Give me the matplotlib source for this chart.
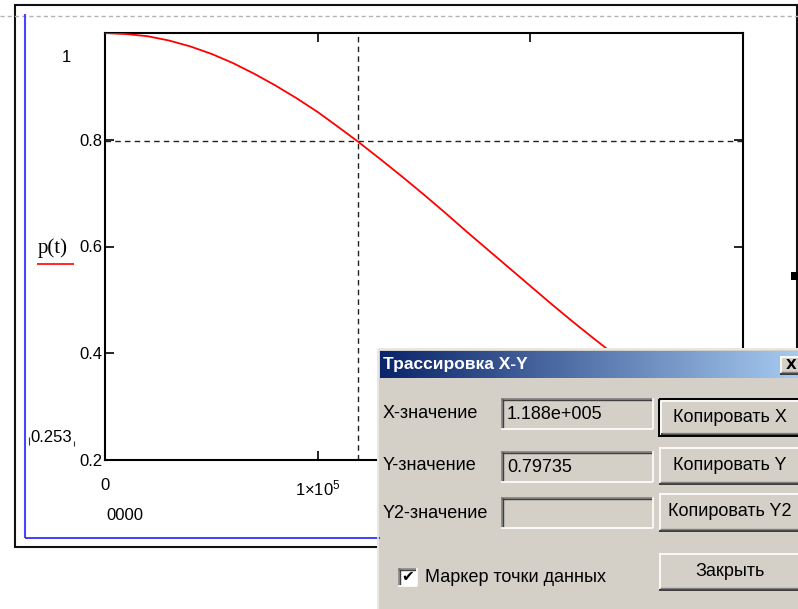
import numpy as np
import matplotlib
matplotlib.use("Agg")
import matplotlib.pyplot as plt
from matplotlib.patches import Rectangle

plt.rcParams['font.family'] = ['Liberation Sans', 'DejaVu Sans']
plt.rcParams['mathtext.fontset'] = 'custom'
plt.rcParams['mathtext.rm'] = 'Liberation Sans'
plt.rcParams['mathtext.it'] = 'Liberation Sans'

# p(t) curve, read along the visible part of the trace
t_vals = [0, 0.1e5, 0.2e5, 0.3e5, 0.4e5, 0.5e5, 0.6e5, 0.7e5, 0.8e5, 0.9e5,
          1.0e5, 1.1e5, 1.188e5, 1.3e5, 1.4e5, 1.5e5, 1.6e5, 1.7e5, 1.8e5,
          1.9e5, 2.0e5, 2.1e5, 2.2e5, 2.3e5, 2.4e5, 2.5e5]
p_vals = [1.000, 0.998, 0.994, 0.986, 0.975, 0.961, 0.944, 0.924, 0.902, 0.878,
          0.852, 0.823, 0.797, 0.762, 0.730, 0.697, 0.663, 0.628, 0.594,
          0.560, 0.526, 0.492, 0.459, 0.427, 0.396, 0.366]

x_ticks = [0, 1e5, 2e5, 3e5]
x_tick_labels = ['0', r'$1{\times}10^{5}$', r'$2{\times}10^{5}$', '']
y_ticks = [0.2, 0.4, 0.6, 0.8, 1.0]
y_tick_labels = ['0.2', '0.4', '0.6', '0.8', '']

# trace cursor
cursor_x = 1.188e5
cursor_y = 0.79735

W, H = 798, 609
fig = plt.figure(figsize=(W / 100, H / 100), dpi=100)
fig.patch.set_facecolor('white')

# ---- plot region ----
ax = fig.add_axes([105 / W, 1 - 460 / H, 638 / W, 427 / H])
ax.plot(t_vals, p_vals, color='red', lw=1.3, zorder=3, solid_joinstyle='round')
ax.axvline(cursor_x, color='#222222', lw=1.0, ls=(0, (4, 3)), zorder=2)
ax.axhline(cursor_y, color='#222222', lw=1.0, ls=(0, (4, 3)), zorder=2)
ax.set_xlim(0, 3e5)
ax.set_ylim(0.2, 1.0)
ax.set_xticks(x_ticks)
ax.set_xticklabels(x_tick_labels)
ax.set_yticks(y_ticks)
ax.set_yticklabels(y_tick_labels)
ax.tick_params(direction='in', length=6.5, width=1.2, top=True, right=True,
               labelsize=12, colors='black')
ax.tick_params(axis='y', pad=2)
ax.tick_params(axis='x', pad=13)
for s in ax.spines.values():
    s.set_linewidth(1.5)
    s.set_color('black')

# ---- worksheet decorations and trace dialog, drawn in pixel space ----
ov = fig.add_axes([0, 0, 1, 1], zorder=5)
ov.patch.set_alpha(0)
ov.axis('off')


def hline(x0, x1, y, **kw):
    ov.plot([x0, x1], [y, y], solid_capstyle='butt', **kw)


def vline(x, y0, y1, **kw):
    ov.plot([x, x], [y0, y1], solid_capstyle='butt', **kw)


# page break line and region frames
hline(0, W, 15.5, color='#b4b4b4', lw=1.0, ls=(0, (3, 2.2)))
ov.add_patch(Rectangle((15, 5), 782, 542, fill=False, ec='#111111', lw=1.5))
vline(25, 14, 538, color='#4646ff', lw=1.5)
hline(25, 380, 538, color='#2020ff', lw=1.2)
ov.add_patch(Rectangle((791, 272), 7, 8, fc='black', ec='none'))

# axis annotations
ov.text(66, 57, '1', fontsize=12, ha='center', va='center')
ov.text(51, 438, '0.253', fontsize=12, ha='center', va='center')
vline(29, 437, 445, color='#333333', lw=0.8)
vline(74, 441, 446, color='#333333', lw=0.8)
ov.text(125, 516, '0000', fontsize=12, ha='center', va='center')
ov.text(53, 248, 'p(t)', fontsize=15, ha='center', va='center',
        family='Liberation Serif')
hline(37, 74, 264, color='red', lw=1.2)

# dialog body
face = '#d4d0c8'
ov.add_patch(Rectangle((377, 348), 430, 270, fc=face, ec='none', zorder=1))
hline(377, W, 348.5, color='#ececec', lw=1.2)
vline(377.5, 348, H, color='#ececec', lw=1.2)

# title bar gradient
grad = np.linspace(0, 1, 256)
c0 = np.array([10, 36, 106]) / 255
c1 = np.array([166, 202, 240]) / 255
bar = (c0[None, :] * (1 - grad[:, None]) + c1[None, :] * grad[:, None])[None, :, :]
ov.imshow(bar, extent=(380, W, 378, 351), aspect='auto',
          interpolation='bilinear', zorder=2)
ov.text(383, 365, 'Трассировка X-Y', color='white', fontsize=12.5,
        fontweight='bold', ha='left', va='center', zorder=4)


def sunken(x0, y0, x1, y1, fc=None):
    if fc:
        ov.add_patch(Rectangle((x0, y0), x1 - x0, y1 - y0, fc=fc, ec='none',
                               zorder=2))
    hline(x0, x1, y0 + 0.5, color='#808080', lw=1.2, zorder=3)
    vline(x0 + 0.5, y0, y1, color='#808080', lw=1.2, zorder=3)
    hline(x0 + 1, x1 - 1, y0 + 1.8, color='#404040', lw=1.0, zorder=3)
    vline(x0 + 1.8, y0 + 1, y1 - 1, color='#404040', lw=1.0, zorder=3)
    hline(x0, x1, y1 - 0.5, color='white', lw=1.2, zorder=3)
    vline(x1 - 0.5, y0, y1, color='white', lw=1.2, zorder=3)


def raised(x0, y0, x1, y1, default=False):
    if default:
        ov.add_patch(Rectangle((x0, y0), x1 - x0, y1 - y0, fill=False,
                               ec='black', lw=1.4, zorder=3))
        x0, y0, x1, y1 = x0 + 1.5, y0 + 1.5, x1 - 1.5, y1 - 1.5
    hline(x0, x1, y0 + 0.5, color='white', lw=1.2, zorder=3)
    vline(x0 + 0.5, y0, y1, color='white', lw=1.2, zorder=3)
    hline(x0, x1, y1 - 0.5, color='#202020', lw=1.2, zorder=3)
    vline(x1 - 0.5, y0, y1, color='#202020', lw=1.2, zorder=3)
    hline(x0 + 1, x1 - 1, y1 - 1.8, color='#808080', lw=1.0, zorder=3)


# close button
ov.add_patch(Rectangle((780, 356), 22, 18, fc=face, ec='none', zorder=3))
raised(780, 356, 802, 374)
ov.text(791, 365, 'X', fontsize=10, fontweight='bold', ha='center', va='center',
        family='DejaVu Sans', zorder=4)

x_text = f"{cursor_x:.3e}".replace('e+0', 'e+00')
y_text = f"{cursor_y:.5f}"
rows = [
    ('X-значение', x_text, 'Копировать X', 414, (398, 429), (399, 436), True),
    ('Y-значение', y_text, 'Копировать Y', 465, (451, 482), (447, 484), False),
    ('Y2-значение', '', 'Копировать Y2', 513, (497, 528), (493, 531), False),
]
for label, value, button, yc, box_y, btn_y, is_default in rows:
    ov.text(383, yc, label, fontsize=13, ha='left', va='center', zorder=4)
    sunken(501, box_y[0], 653, box_y[1])
    ov.text(507, (box_y[0] + box_y[1]) / 2 + 1, value, fontsize=13,
            ha='left', va='center', zorder=4)
    raised(659, btn_y[0], 802, btn_y[1], default=is_default)
    ov.text(730, (btn_y[0] + btn_y[1]) / 2, button, fontsize=13,
            ha='center', va='center', zorder=4)

# data-point marker checkbox
sunken(398, 568, 417, 586, fc='white')
ov.text(407.5, 577, '✔', fontsize=11, ha='center', va='center',
        family='DejaVu Sans', zorder=4)
ov.text(425, 577, 'Маркер точки данных', fontsize=13, ha='left', va='center',
        zorder=4)

raised(659, 553, 802, 590)
ov.text(730, 572, 'Закрыть', fontsize=13, ha='center', va='center', zorder=4)

ov.set_xlim(0, W)
ov.set_ylim(H, 0)

fig.savefig('out.png', dpi=100)
